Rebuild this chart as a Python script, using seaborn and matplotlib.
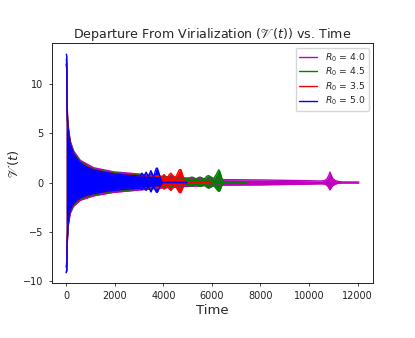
import numpy as np
import matplotlib
matplotlib.use("Agg")
import matplotlib.pyplot as plt
import seaborn as sns

# ---- data: envelopes (upper / lower) of each oscillating series ----
labels = ["$R_0$ = 4.0", "$R_0$ = 4.5", "$R_0$ = 3.5", "$R_0$ = 5.0"]
colors = ["m", "g", "r", "b"]

t_m = [0, 20, 35, 68, 96, 165, 302, 576, 1125, 1948, 3045, 3940, 4900, 6000, 6500, 7000,
       8000, 9000, 10000, 10500, 10650, 10750, 10820, 10865, 10910, 10980, 11080, 11200, 11350, 12050]
hi_m = [12.0, 11.5, 7.8, 6.1, 5.4, 4.2, 3.2, 2.25, 1.5, 1.08, 0.85, 0.62, 0.45, 0.32, 0.29, 0.28,
        0.26, 0.22, 0.18, 0.15, 0.2, 0.4, 0.75, 1.05, 0.75, 0.4, 0.2, 0.1, 0.06, 0.05]
lo_m = [-8.6, -8.2, -6.5, -4.8, -4.1, -3.1, -2.4, -1.8, -1.35, -1.0, -0.75, -0.55, -0.4, -0.28, -0.27, -0.26,
        -0.24, -0.2, -0.16, -0.13, -0.16, -0.3, -0.55, -0.75, -0.55, -0.3, -0.16, -0.08, -0.05, -0.05]

t_g = [0, 20, 35, 68, 96, 165, 302, 576, 1125, 1948, 3045, 3940, 4500, 4900, 5000, 5120, 5170, 5240,
       5340, 5450, 5510, 5580, 5680, 5800, 5860, 5930, 6080, 6200, 6280, 6330, 6400, 6475, 6490, 7440]
hi_g = [12.5, 12.0, 7.5, 5.9, 5.2, 4.05, 3.05, 2.1, 1.38, 0.98, 0.78, 0.6, 0.5, 0.45, 0.4, 0.5, 0.55, 0.5,
        0.35, 0.5, 0.55, 0.48, 0.35, 0.65, 0.7, 0.6, 0.4, 0.9, 1.28, 1.1, 0.5, 0.03, 0.0, 0.0]
lo_g = [-9.15, -8.8, -6.3, -4.6, -3.95, -2.95, -2.28, -1.68, -1.24, -0.9, -0.66, -0.45, -0.35, -0.3, -0.28, -0.34, -0.36, -0.32,
        -0.25, -0.36, -0.4, -0.34, -0.25, -0.5, -0.57, -0.5, -0.3, -0.7, -0.91, -0.8, -0.35, -0.03, 0.0, 0.0]

t_r = [0, 20, 35, 68, 96, 165, 302, 576, 1125, 1948, 3045, 3600, 3900, 3960, 4000, 4030, 4080, 4170,
       4240, 4310, 4370, 4500, 4600, 4660, 4720, 4790, 4850, 4900, 4910, 5930]
hi_r = [12.0, 11.5, 7.0, 5.6, 5.0, 3.9, 2.9, 2.0, 1.3, 0.9, 0.7, 0.65, 0.6, 0.55, 0.75, 0.8, 0.65, 0.45,
        0.8, 0.95, 0.75, 0.5, 1.0, 1.3, 1.3, 0.8, 0.3, 0.03, 0.0, 0.0]
lo_r = [-8.5, -8.0, -6.0, -4.4, -3.8, -2.8, -2.15, -1.58, -1.14, -0.8, -0.57, -0.5, -0.45, -0.4, -0.6, -0.67, -0.55, -0.35,
        -0.65, -0.8, -0.6, -0.35, -0.8, -1.02, -1.02, -0.6, -0.25, -0.03, 0.0, 0.0]

t_b = [0, 20, 32, 41, 68, 96, 137, 165, 233, 302, 439, 576, 850, 1125, 1536, 1948, 2497, 3045,
       3080, 3115, 3150, 3200, 3250, 3290, 3330, 3390, 3440, 3485, 3530, 3600, 3660, 3710, 3750,
       3800, 3870, 3940, 3950, 4970]
hi_b = [13.0, 12.8, 7.5, 6.5, 5.7, 5.0, 4.3, 3.9, 3.4, 2.9, 2.4, 2.0, 1.55, 1.28, 1.05, 0.88, 0.74, 0.65,
        0.8, 0.95, 0.8, 0.6, 0.85, 1.05, 0.85, 0.55, 0.95, 1.2, 0.95, 0.5, 1.1, 1.45, 1.45,
        1.1, 0.5, 0.05, 0.0, 0.0]
lo_b = [-9.1, -8.9, -6.3, -5.8, -4.4, -3.8, -3.1, -2.8, -2.4, -2.15, -1.8, -1.58, -1.3, -1.14, -0.94, -0.8, -0.67, -0.57,
        -0.62, -0.7, -0.6, -0.45, -0.65, -0.8, -0.6, -0.4, -0.7, -0.95, -0.7, -0.35, -0.75, -0.98, -0.98,
        -0.75, -0.35, -0.05, 0.0, 0.0]

series = [(t_m, hi_m, lo_m), (t_g, hi_g, lo_g), (t_r, hi_r, lo_r), (t_b, hi_b, lo_b)]

title = r"Departure From Virialization ($\mathscr{V}(t)$) vs. Time"
xlabel = "Time"
ylabel = r"$\mathscr{V}(t)$"
xticks = [0, 2000, 4000, 6000, 8000, 10000, 12000]
yticks = [-10, -5, 0, 5, 10]

# ---- plot ----
sns.set_style("ticks")
plt.rcParams["font.family"] = ["DejaVu Sans"]
plt.rcParams["mathtext.fontset"] = "dejavusans"

fig = plt.figure(figsize=(4.15, 3.38), dpi=100)
ax = fig.add_axes([0.1246, 0.162, 0.775, 0.710])

for (t, hi, lo), c, lab in zip(series, colors, labels):
    t = np.asarray(t, float)
    hi = np.asarray(hi, float)
    lo = np.asarray(lo, float)
    ax.fill_between(t, lo, hi, color=c, linewidth=0)
    sns.lineplot(x=t, y=hi, color=c, linewidth=1.0, ax=ax, label=lab, sort=False)
    sns.lineplot(x=t, y=lo, color=c, linewidth=1.0, ax=ax, sort=False)

ax.set_xlim(-600, 12650)
ax.set_ylim(-10.2, 14.1)
ax.set_xticks(xticks)
ax.set_yticks(yticks)
ax.set_xticklabels([str(v) for v in xticks])
ax.set_yticklabels([("\u2212" + str(-v)) if v < 0 else str(v) for v in yticks])
ax.tick_params(labelsize=7, length=2.3, width=0.6, color="#222222", labelcolor="#222222")
for s in ax.spines.values():
    s.set_linewidth(0.7)
    s.set_color("#222222")
    s.set_visible(True)

ax.set_title(title, fontsize=9.1, pad=4)
ax.set_xlabel(xlabel, fontsize=9.5, labelpad=2)
ax.set_ylabel(ylabel, fontsize=9.5, labelpad=2)

handles, labs = ax.get_legend_handles_labels()
ax.legend(handles, labs, loc="upper right", fontsize=6.7, frameon=True,
          framealpha=0.8, edgecolor="#cccccc", handlelength=2.0, borderpad=0.35,
          labelspacing=0.22, fancybox=True)

fig.savefig("out.png", dpi=100)
